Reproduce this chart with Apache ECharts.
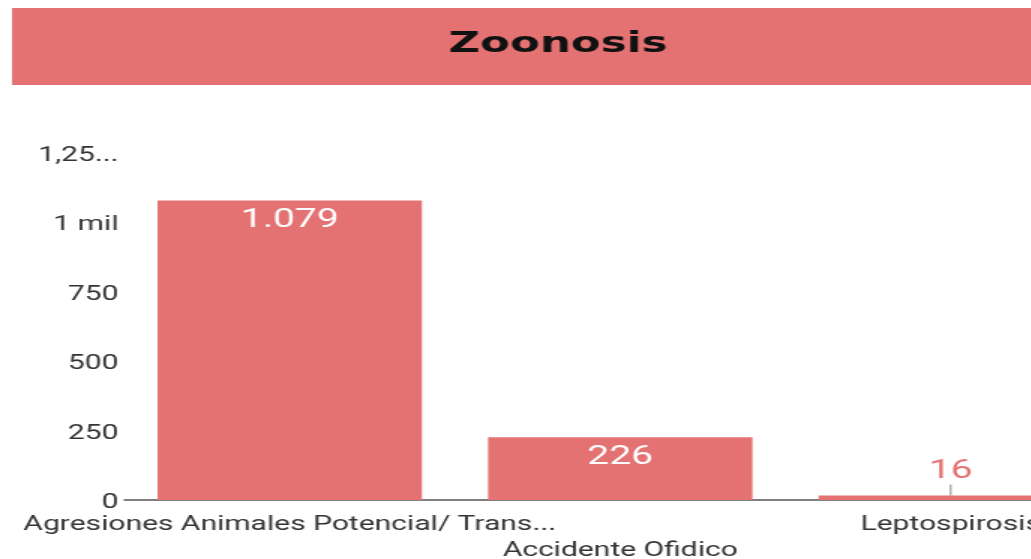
<!DOCTYPE html>
<html>
<head>
<meta charset="utf-8">
<script src="https://cdn.jsdelivr.net/npm/echarts@6/dist/echarts.min.js"></script>
<style>
  html, body { margin: 0; padding: 0; overflow: hidden; background: #fff; }
  /* the reference is stretched horizontally, so draw narrow and stretch */
  #chart { width: 744px; height: 559px; transform: scaleX(1.5); transform-origin: 0 0; }
</style>
</head>
<body>
<div id="chart"></div>
<script>
const categories = ['Agresiones Animales Potencial/ Trans...', 'Accidente Ofidico', 'Leptospirosis']
const values = [1079, 226, 16]
const tickValues = [0, 250, 500, 750, 1000, 1250]
const tickLabels = ['0', '250', '500', '750', '1 mil', '1,25...']

const red = '#e47272'

// 1079 -> "1.079"
function fmt(n) {
  return String(n).replace(/\B(?=(\d{3})+(?!\d))/g, '.')
}

const chart = echarts.init(document.getElementById('chart'))

const option = {
  animation: false,
  textStyle: { fontFamily: 'Roboto' },
  graphic: [
    {
      type: 'rect',
      shape: { x: 8, y: 8, width: 728, height: 77 },
      style: { fill: red },
      z: -1
    },
    {
      type: 'text',
      x: 372,
      y: 44,
      style: {
        text: 'Zoonosis',
        fill: '#111',
        font: 'bold 29px "DejaVu Sans"',
        align: 'center',
        verticalAlign: 'middle'
      }
    }
  ],
  grid: { left: 83, right: 0, top: 153, bottom: 59, outerBoundsMode: 'none', containLabel: false },
  xAxis: {
    type: 'category',
    data: categories,
    axisTick: { show: false },
    axisLine: { lineStyle: { color: '#555', width: 1.5 } },
    axisLabel: {
      interval: 0,
      color: '#333',
      fontSize: 20,
      lineHeight: 26,
      margin: 12,
      // staggered labels
      formatter: (v, i) => (i % 2 ? '\n' + v : v)
    }
  },
  yAxis: {
    type: 'value',
    min: 0,
    max: 1250,
    interval: 250,
    splitLine: { show: false },
    axisLine: { show: false },
    axisTick: { show: false },
    axisLabel: {
      color: '#333',
      fontSize: 20,
      margin: 4,
      verticalAlign: 'top',
      lineHeight: 6,
      formatter: v => tickLabels[tickValues.indexOf(v)]
    }
  },
  series: [
    {
      type: 'bar',
      barCategoryGap: '20%',
      itemStyle: { color: red },
      data: values.map((v, i) => {
        if (i === 2) {
          return {
            value: v,
            label: { position: 'top', color: red, distance: 14 },
            labelLine: { show: true, lineStyle: { color: '#888', width: 1 } }
          }
        }
        return v
      }),
      label: {
        show: true,
        position: 'insideTop',
        distance: 7,
        color: '#fff',
        fontSize: 26,
        formatter: p => fmt(p.value)
      },
      labelLayout: p => (p.dataIndex === 2 ? { dy: 3 } : {})
    }
  ]
}

chart.setOption(option)
</script>
</body>
</html>
